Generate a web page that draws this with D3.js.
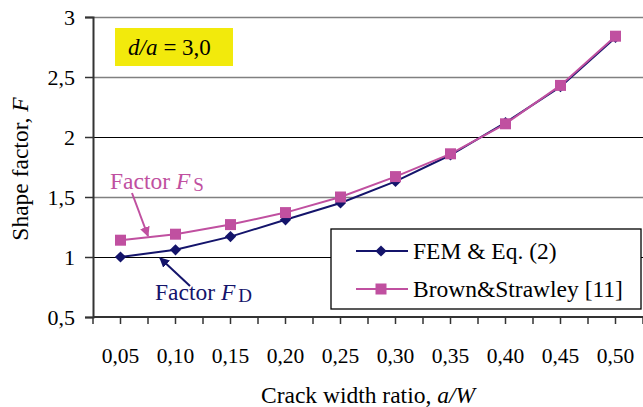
<!DOCTYPE html>
<html>
<head>
<meta charset="utf-8">
<script src="https://cdn.jsdelivr.net/npm/d3@7"></script>
<style>
  body { margin: 0; background: #fff; }
  svg, text, tspan { font-family: "Liberation Serif", "Times New Roman", serif; }
</style>
</head>
<body>
<script>
// data
var ratios = ["0,05", "0,10", "0,15", "0,20", "0,25", "0,30", "0,35", "0,40", "0,45", "0,50"];
var femValues = [1.00, 1.06, 1.17, 1.31, 1.45, 1.63, 1.85, 2.12, 2.42, 2.83];
var brownValues = [1.14, 1.19, 1.27, 1.37, 1.50, 1.67, 1.86, 2.11, 2.43, 2.84];
var yTicks = [0.5, 1, 1.5, 2, 2.5, 3];

var navy = "#14146b", pink = "#c050a0";

var width = 643, height = 407;
var plotL = 93, plotR = 643, plotT = 17, plotB = 317;

var svg = d3.select("body").append("svg")
    .attr("width", width)
    .attr("height", height)
    .attr("font-family", "Liberation Serif");

var x = d3.scaleBand().domain(ratios).range([plotL, plotR]);
var y = d3.scaleLinear().domain([0.5, 3]).range([plotB, plotT]);

// grid lines
svg.selectAll("line.grid")
    .data(yTicks.slice(1))
    .enter().append("line")
    .attr("class", "grid")
    .attr("x1", plotL).attr("x2", plotR)
    .attr("y1", function(d) { return Math.round(y(d)) + 0.5; })
    .attr("y2", function(d) { return Math.round(y(d)) + 0.5; })
    .attr("stroke", function(d) { return d % 1 == 0 && d != 3 ? "#000" : "#808080"; })
    .attr("stroke-width", function(d) { return d % 1 == 0 && d != 3 ? 1 : 1.6; });

// y axis
var yAxis = svg.append("g")
    .attr("transform", "translate(" + plotL + ",0)")
    .call(d3.axisLeft(y).tickValues(yTicks).tickSize(8).tickPadding(10)
        .tickFormat(function(d) { return String(d).replace(".", ","); }));
yAxis.attr("font-family", "Liberation Serif").attr("font-size", 22);
yAxis.select(".domain").attr("stroke", "#333").attr("stroke-width", 2);
yAxis.selectAll(".tick line").attr("stroke", "#333").attr("stroke-width", 1.5);
yAxis.selectAll("text").attr("fill", "#000");

// x axis: ticks at every half band
var halfTicks = d3.range(0, ratios.length * 2 + 1).map(function(i) {
  return plotL + i * x.bandwidth() / 2;
});
svg.append("line")
    .attr("x1", plotL).attr("x2", plotR)
    .attr("y1", plotB).attr("y2", plotB)
    .attr("stroke", "#333").attr("stroke-width", 2);
svg.selectAll("line.xtick")
    .data(halfTicks)
    .enter().append("line")
    .attr("class", "xtick")
    .attr("x1", function(d) { return d; }).attr("x2", function(d) { return d; })
    .attr("y1", plotB).attr("y2", plotB + 7)
    .attr("stroke", "#333").attr("stroke-width", 1.5);
svg.selectAll("text.xlab")
    .data(ratios)
    .enter().append("text")
    .attr("class", "xlab")
    .attr("x", function(d) { return x(d) + x.bandwidth() / 2; })
    .attr("y", 363)
    .attr("text-anchor", "middle")
    .attr("font-size", 21.5)
    .text(function(d) { return d; });

// axis titles
var xt = svg.append("text")
    .attr("x", 368).attr("y", 403)
    .attr("text-anchor", "middle")
    .attr("font-size", 23.5);
xt.append("tspan").text("Crack width ratio, ");
xt.append("tspan").attr("font-style", "italic").text("a/W");

var yt = svg.append("text")
    .attr("transform", "translate(28,169) rotate(-90)")
    .attr("text-anchor", "middle")
    .attr("font-size", 23.5);
yt.append("tspan").text("Shape factor,  ");
yt.append("tspan").attr("font-style", "italic").text("F");

// lines and markers
var line = d3.line()
    .x(function(d, i) { return x(ratios[i]) + x.bandwidth() / 2; })
    .y(function(d) { return y(d); });

svg.append("path").datum(femValues)
    .attr("d", line).attr("fill", "none")
    .attr("stroke", navy).attr("stroke-width", 2);
svg.append("path").datum(brownValues)
    .attr("d", line).attr("fill", "none")
    .attr("stroke", pink).attr("stroke-width", 2);

var diamond = d3.symbol().type(d3.symbolDiamond2).size(80);
svg.selectAll("path.fem")
    .data(femValues)
    .enter().append("path")
    .attr("class", "fem")
    .attr("d", diamond)
    .attr("transform", function(d, i) {
      return "translate(" + (x(ratios[i]) + x.bandwidth() / 2) + "," + y(d) + ")";
    })
    .attr("fill", navy);

svg.selectAll("rect.brown")
    .data(brownValues)
    .enter().append("rect")
    .attr("class", "brown")
    .attr("x", function(d, i) { return x(ratios[i]) + x.bandwidth() / 2 - 5.5; })
    .attr("y", function(d) { return y(d) - 5.5; })
    .attr("width", 11).attr("height", 11)
    .attr("fill", pink);

// yellow label box
svg.append("rect")
    .attr("x", 115).attr("y", 28).attr("width", 118).attr("height", 38)
    .attr("fill", "#f2ea0c");
var lab = svg.append("text")
    .attr("x", 128).attr("y", 55)
    .attr("font-size", 23);
lab.append("tspan").attr("font-style", "italic").text("d/a");
lab.append("tspan").attr("dx", 6).text("= 3,0");

// annotations
var defs = svg.append("defs");
function arrowHead(id, col) {
  defs.append("marker")
      .attr("id", id)
      .attr("viewBox", "0 0 10 10")
      .attr("refX", 9).attr("refY", 5)
      .attr("markerWidth", 5).attr("markerHeight", 5)
      .attr("orient", "auto")
      .append("path").attr("d", "M0,0 L10,5 L0,10 Z").attr("fill", col);
}
arrowHead("ap", pink);
arrowHead("an", navy);

var fs = svg.append("text").attr("x", 110).attr("y", 189)
    .attr("font-size", 23.5).attr("fill", pink);
fs.append("tspan").text("Factor ");
fs.append("tspan").attr("font-style", "italic").text("F");
fs.append("tspan").attr("font-size", 19).attr("dx", 3).attr("dy", 2).text("S");
svg.append("line")
    .attr("x1", 132).attr("y1", 193).attr("x2", 148).attr("y2", 236)
    .attr("stroke", pink).attr("stroke-width", 2)
    .attr("marker-end", "url(#ap)");

var fd = svg.append("text").attr("x", 155).attr("y", 300)
    .attr("font-size", 23.5).attr("fill", navy);
fd.append("tspan").text("Factor ");
fd.append("tspan").attr("font-style", "italic").text("F");
fd.append("tspan").attr("font-size", 19).attr("dx", 3).attr("dy", 2).text("D");
svg.append("line")
    .attr("x1", 190).attr("y1", 286).attr("x2", 160).attr("y2", 258)
    .attr("stroke", navy).attr("stroke-width", 2)
    .attr("marker-end", "url(#an)");

// legend
var legend = svg.append("g");
legend.append("rect")
    .attr("x", 331).attr("y", 229).attr("width", 310).attr("height", 80)
    .attr("fill", "#fff").attr("stroke", "#000").attr("stroke-width", 1.3);
var items = [
  { name: "FEM & Eq. (2)", col: navy, shape: "d" },
  { name: "Brown&Strawley [11]", col: pink, shape: "s" }
];
items.forEach(function(it, i) {
  var cy = 251 + i * 38;
  legend.append("line")
      .attr("x1", 356).attr("x2", 408).attr("y1", cy).attr("y2", cy)
      .attr("stroke", it.col).attr("stroke-width", 2);
  if (it.shape == "d") {
    legend.append("path").attr("d", diamond)
        .attr("transform", "translate(381," + cy + ")").attr("fill", it.col);
  } else {
    legend.append("rect").attr("x", 375.5).attr("y", cy - 5.5)
        .attr("width", 11).attr("height", 11).attr("fill", it.col);
  }
  legend.append("text").attr("x", 413).attr("y", cy + 8)
      .attr("font-size", 23.5).text(it.name);
});
</script>
</body>
</html>
